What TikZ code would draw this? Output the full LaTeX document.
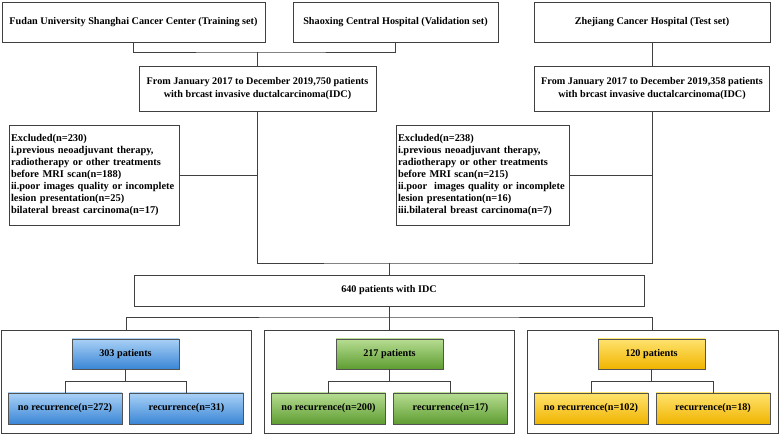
\documentclass[tikz,border=0pt]{standalone}
\usepackage{fontspec}
\setmainfont{Liberation Serif}
\definecolor{lineg}{HTML}{404040}
\definecolor{bluet}{HTML}{A9D1F6}\definecolor{blueb}{HTML}{3A86D6}
\definecolor{greent}{HTML}{B7DD92}\definecolor{greenb}{HTML}{5E9D31}
\definecolor{yellowt}{HTML}{FFE36E}\definecolor{yellowb}{HTML}{F0B400}
\tikzset{
  box/.style={draw=lineg, line width=.8pt, fill=white, inner sep=2pt, align=center,
    font=\fontsize{10.2}{12.5}\selectfont\bfseries},
  exclbox/.style={box, align=left, minimum height=100, text width=166,
    font=\fontsize{10.4}{12}\selectfont\bfseries},
  grpbox/.style={draw=lineg, line width=.8pt, minimum width=250, minimum height=103},
  cbox/.style={box, draw=lineg!90, minimum height=30, top color=#1t, bottom color=#1b},
  link/.style={draw=lineg, line width=.8pt}
}
\begin{document}
\begin{tikzpicture}[x=1pt, y=-1pt]
\useasboundingbox (0,0) rectangle (779,435);
%Ba bệnh viện
\node[box, minimum width=263, minimum height=40] (fudan) at (133.5,22) {Fudan University Shanghai Cancer Center (Training set)};
\node[box, minimum width=205, minimum height=40] (shaoxing) at (395.5,22) {Shaoxing Central Hospital (Validation set)};
\node[box, minimum width=236, minimum height=40] (zhejiang) at (652,22) {Zhejiang Cancer Hospital (Test set)};
\node[box, minimum width=237, minimum height=45] (from1) at (257.5,88.5) {From January 2017 to December 2019,750 patients\\with brcast invasive ductalcarcinoma(IDC)};
\node[box, minimum width=235, minimum height=45] (from2) at (652,88.5) {From January 2017 to December 2019,358 patients\\with brcast invasive ductalcarcinoma(IDC)};
%Loại trừ
\node[exclbox] (excl1) at (94,175) {Excluded(n=230)\\i.previous neoadjuvant therapy,\\radiotherapy or other treatments\\before MRI scan(n=188)\\ii.poor images quality or incomplete\\lesion presentation(n=25)\\bilateral breast carcinoma(n=17)};
\node[exclbox, text width=169] (excl2) at (482.5,175) {Excluded(n=238)\\i.previous neoadjuvant therapy,\\radiotherapy or other treatments\\before MRI scan(n=215)\\ii.poor\ \ images quality or incomplete\\lesion presentation(n=16)\\iii.bilateral breast carcinoma(n=7)};
\node[box, minimum width=510, minimum height=31] (all) at (389,290.5) {640 patients with IDC};
%Ba nhóm
\node[grpbox] (grpA) at (126,381.5) {};
\node[grpbox] (grpB) at (389,381.5) {};
\node[grpbox, minimum width=251] (grpC) at (652.5,381.5) {};
\node[cbox=blue, minimum width=107] (pA) at (125.5,354) {303 patients};
\node[cbox=green, minimum width=107] (pB) at (389.5,354) {217 patients};
\node[cbox=yellow, minimum width=107] (pC) at (651.5,354) {120 patients};
\node[cbox=blue, minimum width=114, minimum height=31] (noA) at (65,408.5) {no recurrence(n=272)};
\node[cbox=blue, minimum width=114, minimum height=31] (reA) at (186.5,408.5) {recurrence(n=31)};
\node[cbox=green, minimum width=114, minimum height=31] (noB) at (328.5,408.5) {no recurrence(n=200)};
\node[cbox=green, minimum width=114, minimum height=31] (reB) at (450.5,408.5) {recurrence(n=17)};
\node[cbox=yellow, minimum width=114, minimum height=31] (noC) at (591,408.5) {no recurrence(n=102)};
\node[cbox=yellow, minimum width=114, minimum height=31] (reC) at (713,408.5) {recurrence(n=18)};
%Đường nối
\coordinate (jtop) at (from1.north |- 0,52);
\draw[link] (fudan.south) |- (jtop) -| (shaoxing.south);
\draw[link] (jtop) -- (from1.north);
\draw[link] (zhejiang) -- (from2);
\coordinate (jmid) at (all.north |- 0,263);
\draw[link] (from1.south) |- (jmid) -| (from2.south);
\draw[link] (jmid) -- (all.north);
\draw[link] (excl1.east) -- (excl1.east -| from1.south);
\draw[link] (excl2.east) -- (excl2.east -| from2.south);
\coordinate (jlow) at (all.south |- 0,317);
\draw[link] (grpA.north) |- (jlow) -| (grpC.north);
\draw[link] (all.south) -- (grpB.north);
\draw[link] (pA.south) -- ++(0,12) coordinate (jA);
\draw[link] (noA.north) |- (jA) -| (reA.north);
\draw[link] (pB.south) -- ++(0,12) coordinate (jB);
\draw[link] (noB.north) |- (jB) -| (reB.north);
\draw[link] (pC.south) -- ++(0,12) coordinate (jC);
\draw[link] (noC.north) |- (jC) -| (reC.north);
\end{tikzpicture}
\end{document}
